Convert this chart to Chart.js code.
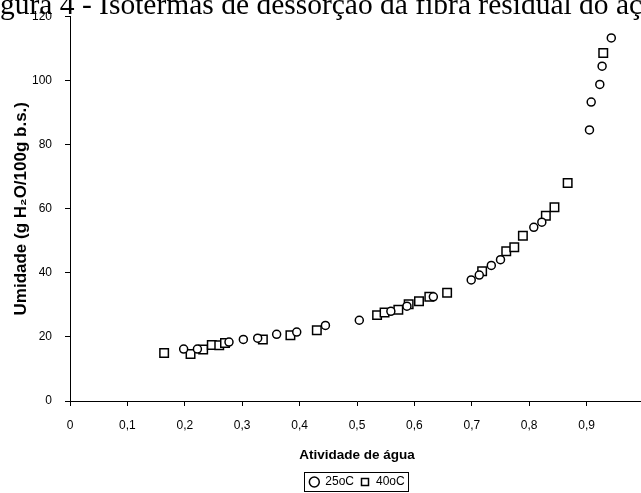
<!DOCTYPE html>
<html>
<head>
<meta charset="utf-8">
<script src="https://cdn.jsdelivr.net/npm/chart.js@4"></script>
<style>
html,body{margin:0;padding:0;background:#fff;overflow:hidden;}
#wrap{position:relative;width:700px;height:493px;}
</style>
</head>
<body>
<div id="wrap"><canvas id="isoChart" width="700" height="493"></canvas></div>
<script>
// dados (atividade de água x umidade)
const aw25 = [0.198,0.222,0.277,0.302,0.327,0.360,0.395,0.445,0.504,0.559,0.587,0.633,0.699,0.713,0.734,0.750,0.808,0.822,0.905,0.908,0.923,0.927,0.943];
const u25  = [16.2,16.2,18.4,19.2,19.6,20.8,21.5,23.6,25.2,28.0,29.6,32.5,37.8,39.3,42.3,44.1,54.2,55.8,84.6,93.3,98.8,104.5,113.3];
const aw40 = [0.164,0.210,0.232,0.247,0.260,0.270,0.336,0.384,0.430,0.535,0.548,0.572,0.590,0.608,0.626,0.657,0.718,0.760,0.774,0.789,0.829,0.844,0.867,0.929];
const u40  = [15.0,14.7,16.1,17.5,17.4,18.1,19.2,20.5,22.1,26.8,27.6,28.5,30.2,31.1,32.5,33.8,40.5,46.7,48.0,51.6,57.8,60.5,68.0,108.6];
const seriesNames = ['25oC','40oC'];
const xTitle = 'Atividade de água';
const yTitle = 'Umidade (g H\u2082O/100g b.s.)';
const caption = 'Figura 4 - Isotermas de dessorção da fibra residual do açaí';

const toPts = (xs, ys) => xs.map((x,i)=>({x:x, y:ys[i]}));

// legenda do documento (cortada no topo)
const captionPlugin = {
  id:'caption',
  afterDraw(chart){
    const c = chart.ctx;
    c.save();
    c.font = '29.5px "Liberation Serif"';
    c.fillStyle = '#000';
    const skip = c.measureText('Fi').width;
    c.fillText(caption, -skip, 6);
    c.restore();
  }
};
// posiciona a legenda centrada sob o eixo x
const legendShift = {
  id:'legendShift',
  afterLayout(chart){
    const lg = chart.legend, ca = chart.chartArea;
    const dx = (ca.left+ca.right)/2 - (lg.left+lg.right)/2;
    lg.left += dx; lg.right += dx;
    const h = lg.bottom - lg.top;
    lg.top = 476 - lg.options.labels.padding;
    lg.bottom = lg.top + h;
  }
};
// moldura da legenda
const legendBox = {
  id:'legendBox',
  afterDraw(chart){
    const lg = chart.legend;
    if(!lg || !lg.legendHitBoxes.length) return;
    const hb = lg.legendHitBoxes;
    let l = Math.min(...hb.map(b=>b.left)), r = Math.max(...hb.map(b=>b.left+b.width));
    let t = Math.min(...hb.map(b=>b.top)), b = Math.max(...hb.map(b=>b.top+b.height));
    const c = chart.ctx;
    c.save();
    c.strokeStyle = '#000';
    c.lineWidth = 1;
    c.strokeRect(Math.round(l-5)+0.5, Math.round(t-4)+0.5, Math.round(r-l+9), Math.round(b-t+7));
    c.restore();
  }
};

const tickFont = {family:'"Liberation Sans", Arial', size:12};

new Chart(document.getElementById('isoChart').getContext('2d'),{
  type:'scatter',
  data:{
    datasets:[{
      label:seriesNames[0],
      data:toPts(aw25,u25),
      pointStyle:'circle',
      pointRadius:4,
      pointHoverRadius:4,
      borderColor:'#000',
      backgroundColor:'#fff',
      pointBorderWidth:1.5,
      borderWidth:1.5
    },{
      label:seriesNames[1],
      data:toPts(aw40,u40),
      pointStyle:'rect',
      pointRadius:6,
      pointHoverRadius:6,
      borderColor:'#000',
      backgroundColor:'#fff',
      pointBorderWidth:1.5,
      borderWidth:1.5
    }]
  },
  options:{
    responsive:false,
    animation:false,
    devicePixelRatio:1,
    layout:{padding:{left:0,top:16.5,right:56,bottom:2}},
    plugins:{
      tooltip:{enabled:false},
      legend:{
        position:'bottom',
        labels:{usePointStyle:true,boxWidth:10,boxHeight:7,padding:6,color:'#000',font:tickFont}
      }
    },
    scales:{
      x:{
        type:'linear',min:0,max:1,
        ticks:{stepSize:0.1,color:'#000',font:tickFont,padding:12,maxRotation:0,
          callback:v=> v===0 ? '0' : (Math.round(v*10)/10).toString().replace('.',',')},
        grid:{drawOnChartArea:false,drawTicks:true,tickLength:5,color:'#000'},
        border:{color:'#000',width:1},
        title:{display:true,text:xTitle,color:'#000',
          font:{family:'"Liberation Sans", Arial',size:13.5,weight:'bold'},padding:{top:0,bottom:0}},
        afterFit:s=>{s.height=62;}
      },
      y:{
        min:0,max:120,
        ticks:{stepSize:20,color:'#000',font:tickFont,padding:13},
        grid:{drawOnChartArea:false,drawTicks:true,tickLength:5,color:'#000'},
        border:{color:'#000',width:1},
        title:{display:true,text:yTitle,color:'#000',
          font:{family:'"Liberation Sans", Arial',size:17,weight:'bold'},padding:{top:11,bottom:0}},
        afterFit:s=>{s.width=70; s.paddingTop=0; s.paddingBottom=0;}
      }
    }
  },
  plugins:[captionPlugin,legendShift,legendBox]
});
</script>
</body>
</html>
